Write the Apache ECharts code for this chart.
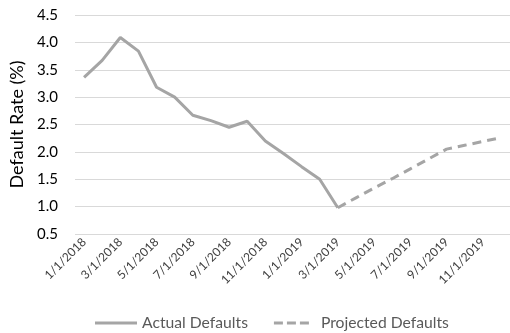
<!DOCTYPE html>
<html>
<head>
<meta charset="utf-8">
<script src="https://cdn.jsdelivr.net/npm/echarts@6/dist/echarts.min.js"></script>
<style>html,body{margin:0;padding:0;background:#fff;}#c{width:510px;height:333px;}</style>
</head>
<body>
<div id="c"></div>
<script>
var categories = ["1/1/2018","2/1/2018","3/1/2018","4/1/2018","5/1/2018","6/1/2018","7/1/2018","8/1/2018","9/1/2018","10/1/2018","11/1/2018","12/1/2018",
  "1/1/2019","2/1/2019","3/1/2019","4/1/2019","5/1/2019","6/1/2019","7/1/2019","8/1/2019","9/1/2019","10/1/2019","11/1/2019","12/1/2019"];
var actualDefaults = [3.36, 3.67, 4.09, 3.84, 3.18, 3.0, 2.67, 2.57, 2.45, 2.56, 2.2, 1.97, 1.73, 1.5, 0.98,
  null, null, null, null, null, null, null, null, null];
var projectedDefaults = [null, null, null, null, null, null, null, null, null, null, null, null, null, null,
  0.98, 1.16, 1.34, 1.51, 1.69, 1.87, 2.05, 2.12, 2.19, 2.26];
var yAxisName = "Default Rate (%)";

var FONT = "Lato";
var chart = echarts.init(document.getElementById('c'), null, {renderer: 'canvas'});
chart.setOption({
  animation: false,
  backgroundColor: '#ffffff',
  textStyle: {fontFamily: FONT},
  grid: {left: 75, right: -11, top: 15, bottom: 99, containLabel: false},
  legend: {
    top: 310, left: 90, padding: 5,
    itemWidth: 42, itemHeight: 3, itemGap: 26,
    textStyle: {fontFamily: FONT, fontSize: 15.7, color: '#595959'},
    data: [
      {name: 'Actual Defaults', icon: 'path://M0,0 L42,0 L42,3 L0,3 Z'},
      {name: 'Projected Defaults', icon: 'path://M0,0 L9,0 L9,3 L0,3 Z M13,0 L22,0 L22,3 L13,3 Z M26,0 L35,0 L35,3 L26,3 Z M42,0 L42,3'}
    ]
  },
  xAxis: {
    type: 'category',
    data: categories,
    boundaryGap: true,
    axisLine: {show: false},
    axisTick: {show: false},
    axisLabel: {interval: 1, rotate: 45, margin: 6, fontFamily: FONT, fontSize: 12, color: '#404040'}
  },
  yAxis: {
    type: 'value', min: 0.5, max: 4.5, interval: 0.5,
    name: yAxisName, nameLocation: 'middle', nameGap: 44,
    nameTextStyle: {fontFamily: FONT, fontSize: 18, color: '#000'},
    axisLine: {show: false}, axisTick: {show: false},
    axisLabel: {margin: 17, fontFamily: FONT, fontSize: 15, color: '#000', formatter: function(v){return v.toFixed(1);}},
    splitLine: {lineStyle: {color: '#d9d9d9', width: 1}}
  },
  series: [
    {name: 'Actual Defaults', type: 'line', data: actualDefaults, symbol: 'none', connectNulls: false,
     itemStyle: {color: '#a5a5a5'}, lineStyle: {color: '#a5a5a5', width: 3}},
    {name: 'Projected Defaults', type: 'line', data: projectedDefaults, symbol: 'none', connectNulls: false,
     itemStyle: {color: '#a5a5a5'}, lineStyle: {color: '#a5a5a5', width: 3, type: [9, 6]}}
  ]
});
</script>
</body>
</html>
